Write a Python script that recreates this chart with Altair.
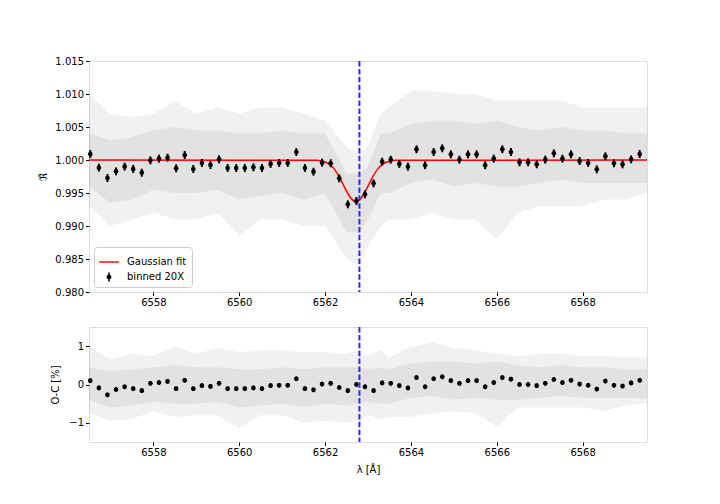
import altair as alt
import pandas as pd

# ---------------- data ----------------
bin_x = [6556.53, 6556.73, 6556.93, 6557.13, 6557.33, 6557.53, 6557.73, 6557.93, 6558.13, 6558.33,
         6558.53, 6558.73, 6558.93, 6559.13, 6559.33, 6559.53, 6559.73, 6559.93, 6560.13, 6560.33,
         6560.53, 6560.73, 6560.93, 6561.13, 6561.33, 6561.53, 6561.73, 6561.93, 6562.13, 6562.33,
         6562.53, 6562.73, 6562.93, 6563.13, 6563.33, 6563.53, 6563.73, 6563.93, 6564.13, 6564.33,
         6564.53, 6564.73, 6564.93, 6565.13, 6565.33, 6565.53, 6565.73, 6565.93, 6566.13, 6566.33,
         6566.53, 6566.73, 6566.93, 6567.13, 6567.33, 6567.53, 6567.73, 6567.93, 6568.13, 6568.33,
         6568.53, 6568.73, 6568.93, 6569.13, 6569.33]

bin_flux = [1.0009, 0.99884, 0.99727, 0.99828, 0.99899, 0.99864, 0.99808, 0.99995, 1.0002, 1.00035,
            0.99874, 1.00076, 0.99864, 0.99955, 0.99924, 1.0001, 0.99879, 0.99879, 0.99879, 0.99889,
            0.99879, 0.9994, 0.99955, 0.99955, 1.00121, 0.99879, 0.99823, 0.9996, 0.9995, 0.99722,
            0.99328, 0.99379, 0.9948, 0.99646, 0.99975, 1.00005, 0.9994, 0.99899, 1.00162, 0.9992,
            1.00121, 1.00177, 1.00086, 1.00005, 1.00086, 1.00086, 0.9992, 1.0002, 1.00162, 1.00121,
            0.99965, 0.99965, 0.99934, 1.00005, 1.00101, 1.0002, 1.00086, 0.99985, 0.99955, 0.99859,
            1.00056, 0.9995, 0.99934, 1.0001, 1.0009]
bin_flux_err = [0.0006] * 65

bin_resid = [0.10, -0.09, -0.27, -0.13, -0.06, -0.11, -0.16, 0.03, 0.05, 0.08,
             -0.11, 0.11, -0.11, -0.03, -0.05, 0.03, -0.11, -0.11, -0.11, -0.09,
             -0.11, -0.03, -0.02, -0.02, 0.15, -0.11, -0.14, 0.01, 0.03, -0.08,
             -0.16, 0.00, -0.06, -0.16, 0.04, 0.03, -0.03, -0.09, 0.18, -0.06,
             0.15, 0.20, 0.10, 0.03, 0.10, 0.10, -0.06, 0.05, 0.18, 0.14,
             0.00, 0.00, -0.03, 0.03, 0.13, 0.05, 0.11, 0.01, -0.02, -0.12,
             0.09, -0.02, -0.04, 0.04, 0.11]
bin_resid_err = [0.06] * 65

# Gaussian fit curve
fit_x = [6556.5, 6561.8, 6561.92, 6562.02, 6562.12, 6562.22, 6562.32, 6562.42, 6562.52, 6562.62,
         6562.72, 6562.82, 6562.92, 6563.02, 6563.12, 6563.22, 6563.32, 6563.42, 6563.52, 6563.64, 6569.5]
fit_y = [1.0, 0.99996, 0.99986, 0.99966, 0.99926, 0.99858, 0.99757, 0.99631, 0.99504, 0.99407,
         0.9937, 0.99407, 0.99504, 0.99631, 0.99757, 0.99858, 0.99926, 0.99966, 0.99986, 0.99996, 1.0]

# envelope of the unbinned grey data
grey_x = [6556.5, 6557.0, 6557.5, 6558.0, 6558.5, 6559.0, 6559.5, 6560.0, 6560.5, 6561.0,
          6561.5, 6562.0, 6562.5, 6562.8, 6563.0, 6563.3, 6563.5, 6564.0, 6564.5, 6565.0,
          6565.5, 6566.0, 6566.5, 6567.0, 6567.5, 6568.0, 6568.5, 6569.0, 6569.5]
flux_outer_hi = [1.010, 1.007, 1.0065, 1.007, 1.009, 1.007, 1.008, 1.007, 1.008, 1.008,
                 1.007, 1.006, 1.002, 1.001, 1.002, 1.007, 1.008, 1.0105, 1.0105, 1.010,
                 1.010, 1.009, 1.009, 1.009, 1.009, 1.008, 1.008, 1.008, 1.008]
flux_outer_lo = [0.993, 0.990, 0.991, 0.992, 0.991, 0.991, 0.992, 0.9885, 0.991, 0.991,
                 0.990, 0.990, 0.985, 0.984, 0.987, 0.990, 0.991, 0.991, 0.992, 0.991,
                 0.991, 0.988, 0.992, 0.993, 0.993, 0.993, 0.994, 0.994, 0.995]
flux_inner_hi = [1.004, 1.003, 1.0035, 1.0045, 1.005, 1.0045, 1.0045, 1.004, 1.004, 1.0045,
                 1.004, 1.004, 0.998, 0.998, 0.999, 1.004, 1.004, 1.0055, 1.006, 1.006,
                 1.0055, 1.006, 1.005, 1.0045, 1.005, 1.0045, 1.0045, 1.004, 1.004]
flux_inner_lo = [0.996, 0.9935, 0.994, 0.9955, 0.995, 0.995, 0.9955, 0.994, 0.9945, 0.995,
                 0.994, 0.995, 0.989, 0.989, 0.991, 0.995, 0.995, 0.9965, 0.997, 0.996,
                 0.9965, 0.996, 0.996, 0.9965, 0.997, 0.9965, 0.9965, 0.9965, 0.9965]

resid_outer_hi = [1.0, 0.65, 0.8, 0.75, 1.0, 0.8, 0.95, 0.85, 0.9, 0.9,
                  0.85, 0.85, 0.8, 0.9, 0.75, 0.9, 0.7, 1.0, 1.1, 0.95,
                  0.9, 0.8, 0.75, 0.8, 0.8, 0.75, 0.75, 0.7, 0.7]
resid_outer_lo = [-0.75, -0.95, -0.9, -0.7, -0.85, -0.8, -0.8, -1.15, -0.8, -0.8,
                  -1.0, -0.95, -1.0, -0.95, -0.8, -0.9, -0.85, -0.85, -0.75, -0.7,
                  -0.75, -1.1, -0.6, -0.6, -0.6, -0.6, -0.7, -0.55, -0.5]
resid_inner_hi = [0.45, 0.35, 0.4, 0.45, 0.5, 0.45, 0.45, 0.4, 0.4, 0.45,
                  0.4, 0.45, 0.45, 0.45, 0.4, 0.45, 0.4, 0.55, 0.6, 0.6,
                  0.55, 0.6, 0.5, 0.45, 0.5, 0.45, 0.45, 0.4, 0.4]
resid_inner_lo = [-0.4, -0.6, -0.55, -0.45, -0.5, -0.5, -0.45, -0.6, -0.55, -0.5,
                  -0.6, -0.5, -0.55, -0.5, -0.45, -0.5, -0.5, -0.35, -0.3, -0.4,
                  -0.35, -0.4, -0.4, -0.35, -0.3, -0.35, -0.35, -0.35, -0.35]

line_center = [6562.8]
legend_labels = ["Gaussian fit", "binned 20X"]
x_ticks = [6558, 6560, 6562, 6564, 6566, 6568]
flux_ticks = [0.980, 0.985, 0.990, 0.995, 1.000, 1.005, 1.010, 1.015]
resid_ticks = [-1, 0, 1]

# ---------------- tables ----------------
bins = pd.DataFrame({
    "x": bin_x, "flux": bin_flux,
    "flux_lo": [f - e for f, e in zip(bin_flux, bin_flux_err)],
    "flux_hi": [f + e for f, e in zip(bin_flux, bin_flux_err)],
    "res": bin_resid,
    "res_lo": [r - e for r, e in zip(bin_resid, bin_resid_err)],
    "res_hi": [r + e for r, e in zip(bin_resid, bin_resid_err)],
})
fit = pd.DataFrame({"x": fit_x, "y": fit_y})
grey = pd.DataFrame({"x": grey_x, "fo_hi": flux_outer_hi, "fo_lo": flux_outer_lo,
                     "fi_hi": flux_inner_hi, "fi_lo": flux_inner_lo,
                     "ro_hi": resid_outer_hi, "ro_lo": resid_outer_lo,
                     "ri_hi": resid_inner_hi, "ri_lo": resid_inner_lo})
vline = pd.DataFrame({"x": line_center})
leg = pd.DataFrame({"series": legend_labels, "x": [6560.0, 6560.0], "y": [1.0, 1.0]})

FONT = "DejaVu Sans"
BLUE = "#2a2aff"
xscale = alt.Scale(domain=[6556.5, 6569.5], nice=False, zero=False)
fscale = alt.Scale(domain=[0.980, 1.015], nice=False, zero=False)
rscale = alt.Scale(domain=[-1.5, 1.5], nice=False, zero=False)

def xaxis(title=None):
    kw = dict(values=x_ticks, format="d", grid=False, domain=False, tickSize=3.5,
              tickColor="black", labelColor="black", labelFontSize=10, labelPadding=2,
              labelFont=FONT, labelOverlap=False)
    if title:
        return alt.Axis(title=title, titleFontSize=10, titleFontWeight="normal",
                        titleColor="black", titleFont=FONT, titlePadding=7, **kw)
    return alt.Axis(title=None, **kw)

X = alt.X("x:Q", scale=xscale, axis=xaxis())
XB = alt.X("x:Q", scale=xscale, axis=xaxis("λ [Å]"))

fy_axis = alt.Axis(values=flux_ticks, format=".3f", grid=False, domain=False, tickSize=3.5,
                   tickColor="black", labelColor="black", labelFontSize=10, labelPadding=2,
                   labelFont=FONT, labelOverlap=False, title="ℜ̃", titleFontSize=10,
                   titleFontWeight="normal", titleColor="black", titleFont=FONT, titlePadding=6)
ry_axis = alt.Axis(values=resid_ticks, format="d", grid=False, domain=False, tickSize=3.5,
                   tickColor="black", labelColor="black", labelFontSize=10, labelPadding=2,
                   labelFont=FONT, labelOverlap=False, title="O-C [%]", titleFontSize=10,
                   titleFontWeight="normal", titleColor="black", titleFont=FONT, titlePadding=8)

def FY(field):
    return alt.Y(field, type="quantitative", scale=fscale, axis=fy_axis)

def RY(field):
    return alt.Y(field, type="quantitative", scale=rscale, axis=ry_axis)

# ---------------- top panel ----------------
t_outer = alt.Chart(grey).mark_area(color="#000000", opacity=0.055, clip=True).encode(
    x=X, y=FY("fo_lo"), y2="fo_hi:Q")
t_inner = alt.Chart(grey).mark_area(color="#000000", opacity=0.06, clip=True).encode(
    x=X, y=FY("fi_lo"), y2="fi_hi:Q")
t_fit = alt.Chart(fit).mark_line(color="#ff0000", strokeWidth=1.5, interpolate="monotone").encode(
    x=X, y=FY("y"))
t_err = alt.Chart(bins).mark_rule(color="black", strokeWidth=2).encode(
    x=X, y=FY("flux_lo"), y2="flux_hi:Q")
t_pts = alt.Chart(bins).mark_circle(color="black", size=22, opacity=1).encode(
    x=X, y=FY("flux"))
t_vl = alt.Chart(vline).mark_rule(color=BLUE, strokeWidth=2, strokeDash=[5.5, 2.4]).encode(
    x=X)

line_path = "M-1,-0.07H1V0.07H-1Z"
err_path = ("M-0.08,-0.44H0.08V-0.2H-0.08Z M-0.08,0.2H0.08V0.44H-0.08Z "
            "M-0.24,0A0.24,0.24 0 1,1 0.24,0A0.24,0.24 0 1,1 -0.24,0Z")
t_leg = alt.Chart(leg).mark_point(filled=True, opacity=0).encode(
    x=X, y=FY("y"),
    color=alt.Color("series:N", scale=alt.Scale(domain=legend_labels, range=["#ff0000", "#000000"]),
                    legend=alt.Legend(title=None, orient="bottom-left", offset=5, padding=5,
                                      fillColor="white", strokeColor="#cccccc", cornerRadius=3,
                                      labelFontSize=10, labelFont=FONT, labelColor="black",
                                      symbolSize=400, symbolOpacity=1, symbolStrokeWidth=0,
                                      labelOffset=8, rowPadding=-4)),
    shape=alt.Shape("series:N", scale=alt.Scale(domain=legend_labels, range=[line_path, err_path]),
                    legend=None),
)

top = alt.layer(t_outer, t_inner, t_fit, t_err, t_pts, t_vl, t_leg).properties(width=558, height=231)

# ---------------- bottom panel ----------------
b_outer = alt.Chart(grey).mark_area(color="#000000", opacity=0.055, clip=True).encode(
    x=XB, y=RY("ro_lo"), y2="ro_hi:Q")
b_inner = alt.Chart(grey).mark_area(color="#000000", opacity=0.06, clip=True).encode(
    x=XB, y=RY("ri_lo"), y2="ri_hi:Q")
b_err = alt.Chart(bins).mark_rule(color="black", strokeWidth=2).encode(
    x=XB, y=RY("res_lo"), y2="res_hi:Q")
b_pts = alt.Chart(bins).mark_circle(color="black", size=22, opacity=1).encode(
    x=XB, y=RY("res"))
b_vl = alt.Chart(vline).mark_rule(color=BLUE, strokeWidth=2, strokeDash=[5.5, 2.4]).encode(
    x=XB)

bottom = alt.layer(b_outer, b_inner, b_err, b_pts, b_vl).properties(width=558, height=115)

chart = alt.vconcat(top, bottom, spacing=35, bounds="flush").resolve_scale(
    color="independent", shape="independent"
).resolve_legend(color="independent", shape="independent").properties(
    padding={"left": 30, "top": 47, "right": 5, "bottom": 5}
).configure_view(stroke="black", strokeWidth=1).configure(font=FONT)

chart.save("out.html", embed_options={"renderer": "svg", "actions": False})
